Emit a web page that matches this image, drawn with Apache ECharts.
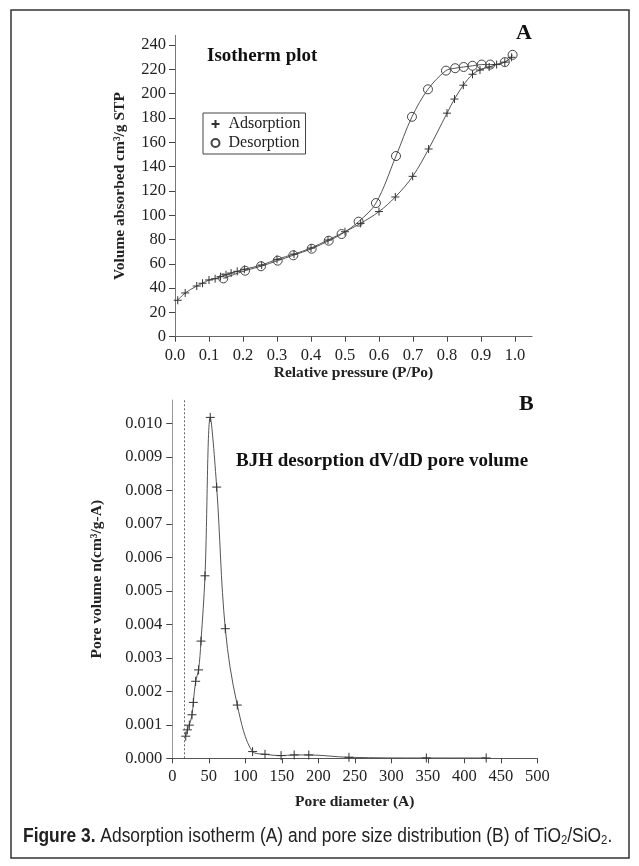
<!DOCTYPE html>
<html>
<head>
<meta charset="utf-8">
<script src="https://cdn.jsdelivr.net/npm/echarts@6/dist/echarts.min.js"></script>
<style>
html,body{margin:0;padding:0;background:#fff;}
#c{width:639px;height:866px;}
</style>
</head>
<body>
<div id="c"></div>
<script>
// ---- Panel A: isotherm ----
var adsP = [0.008,0.03,0.064,0.081,0.10,0.118,0.134,0.15,0.165,0.183,0.204,0.255,0.30,0.35,0.40,0.45,0.50,0.546,0.60,0.648,0.699,0.746,0.80,0.822,0.848,0.875,0.897,0.924,0.946,0.97,0.99];
var adsV = [30,36,41.7,44,46.7,47.7,49.4,51,52.4,53.8,55.5,59,63.7,68,73,79.6,86.4,93.3,103,115,132,154.5,184,195.6,207,216,219.5,222,224,226,230];
var desP = [0.142,0.206,0.253,0.302,0.348,0.402,0.452,0.49,0.54,0.591,0.65,0.697,0.744,0.797,0.824,0.849,0.875,0.902,0.927,0.97,0.993];
var desV = [48,54.3,58,62.6,67,72.4,79,84.5,94.7,110,148.7,181,203.6,219,221,222,223,224,224,226,232];
var xTicksA = [0,0.1,0.2,0.3,0.4,0.5,0.6,0.7,0.8,0.9,1.0];
var yTicksA = [0,20,40,60,80,100,120,140,160,180,200,220,240];

// ---- Panel B: BJH pore size distribution ----
var poreD = [18.4,20.6,23.3,27,28.8,32,36,39.3,44.8,52,60.8,72.6,89,110,127,149,167,187,242,348,430];
var poreV = [0.00066,0.00085,0.00099,0.0013,0.00167,0.0023,0.00264,0.0035,0.00545,0.01018,0.0081,0.00387,0.00159,0.0002,0.00012,0.00008,0.0001,0.0001,0.00003,0.00001,0.00001];
var xTicksB = [0,50,100,150,200,250,300,350,400,450,500];
var yTicksB = [0,0.001,0.002,0.003,0.004,0.005,0.006,0.007,0.008,0.009,0.010];
var cutoffD = 17;

function zip(a,b){return a.map(function(v,i){return [v,b[i]];});}

var serif = '"Liberation Serif","Times New Roman",serif';
var sans = '"Liberation Sans",Arial,sans-serif';
var plus = 'path://M0,5L10,5M5,0L5,10';
var labelFont = {fontFamily:serif,fontSize:16.5,color:'#222'};
var nameFont = {fontFamily:serif,fontSize:15.5,fontWeight:'bold',color:'#222'};

var chart = echarts.init(document.getElementById('c'), null, {renderer:'canvas'});
chart.setOption({
  animation:false,
  backgroundColor:'#fff',
  grid:[
    {left:175,top:35.4,width:357,height:301.3},
    {left:172.3,top:400,width:365,height:358.3}
  ],
  xAxis:[
    {gridIndex:0,type:'value',min:0,max:1.05,
     axisLine:{show:true,onZero:false,lineStyle:{color:'#666'}},
     axisTick:{show:true,length:5,customValues:xTicksA,lineStyle:{color:'#444'}},
     axisLabel:Object.assign({customValues:xTicksA,margin:10,formatter:function(v){return v.toFixed(1);}},labelFont),
     splitLine:{show:false},
     name:'Relative pressure (P/Po)',nameLocation:'middle',nameGap:26,nameTextStyle:nameFont},
    {gridIndex:1,type:'value',min:0,max:500,
     axisLine:{show:true,onZero:false,lineStyle:{color:'#555'}},
     axisTick:{show:true,length:5,customValues:xTicksB,lineStyle:{color:'#444'}},
     axisLabel:Object.assign({customValues:xTicksB,margin:10},labelFont),
     splitLine:{show:false},
     name:'Pore diameter (A)',nameLocation:'middle',nameGap:36,nameTextStyle:nameFont}
  ],
  yAxis:[
    {gridIndex:0,type:'value',min:0,max:248,
     axisLine:{show:true,onZero:false,lineStyle:{color:'#777'}},
     axisTick:{show:true,length:6,customValues:yTicksA,lineStyle:{color:'#444'}},
     axisLabel:Object.assign({customValues:yTicksA,margin:9},labelFont),
     splitLine:{show:false},
     name:'Volume absorbed cm³/g STP',nameLocation:'middle',nameGap:47,nameTextStyle:nameFont},
    {gridIndex:1,type:'value',min:0,max:0.0107,
     axisLine:{show:true,onZero:false,lineStyle:{color:'#999'}},
     axisTick:{show:true,length:6,customValues:yTicksB,lineStyle:{color:'#444'}},
     axisLabel:Object.assign({customValues:yTicksB,margin:10,formatter:function(v){return v.toFixed(3);}},labelFont),
     splitLine:{show:false},
     name:'Pore volume n(cm³/g-A)',nameLocation:'middle',nameGap:67,nameTextStyle:nameFont}
  ],
  legend:{
    left:203,top:113,orient:'vertical',
    data:[{name:'Adsorption',icon:plus},{name:'Desorption',icon:'circle'}],
    borderColor:'#444',borderWidth:1,padding:[3,5,3,6],itemGap:3,
    itemWidth:8,itemHeight:8,
    textStyle:{fontFamily:serif,fontSize:16,color:'#222',padding:[0,0,0,4]}
  },
  series:[
    {name:'Adsorption',type:'line',xAxisIndex:0,yAxisIndex:0,data:zip(adsP,adsV),
     smooth:0.35,symbol:plus,symbolSize:8,
     lineStyle:{color:'#555',width:1},
     itemStyle:{color:'none',borderColor:'#333',borderWidth:1}},
    {name:'Desorption',type:'line',xAxisIndex:0,yAxisIndex:0,data:zip(desP,desV),
     smooth:0.35,symbol:'circle',symbolSize:9,
     lineStyle:{color:'#555',width:1},
     itemStyle:{color:'rgba(255,255,255,0)',borderColor:'#444',borderWidth:1}},
    {name:'BJH',type:'line',xAxisIndex:1,yAxisIndex:1,data:zip(poreD,poreV),
     smooth:0.35,symbol:plus,symbolSize:9,
     lineStyle:{color:'#555',width:1},
     itemStyle:{color:'none',borderColor:'#333',borderWidth:1},
     markLine:{silent:true,symbol:'none',label:{show:false},
       lineStyle:{color:'#666',type:[2,2],width:1},
       data:[{xAxis:cutoffD}]}}
  ],
  graphic:[
    {type:'rect',shape:{x:11,y:10,width:618,height:848},
     style:{fill:'none',stroke:'#333',lineWidth:1.5},silent:true},
    {type:'text',left:207,top:47,style:{text:'Isotherm plot',font:'bold 19px '+serif,fill:'#111'}},
    {type:'text',left:516,top:22,style:{text:'A',font:'bold 22px '+serif,fill:'#111'}},
    {type:'text',left:236,top:452,style:{text:'BJH desorption dV/dD pore volume',font:'bold 19px '+serif,fill:'#111'}},
    {type:'text',left:519,top:393,style:{text:'B',font:'bold 22px '+serif,fill:'#111'}},
    {type:'text',x:23,y:836,scaleX:0.87,originX:0,originY:0,style:{
      text:'{b|Figure 3.} Adsorption isotherm (A) and pore size distribution (B) of TiO{s|2}/SiO{s|2}.',
      fontFamily:sans,fontSize:20,fill:'#222',verticalAlign:'middle',
      rich:{
        b:{fontFamily:sans,fontSize:20,fontWeight:'bold',fill:'#222'},
        s:{fontFamily:sans,fontSize:13,fill:'#222',padding:[8,0,0,0]}
      }}}
  ]
});
</script>
</body>
</html>
